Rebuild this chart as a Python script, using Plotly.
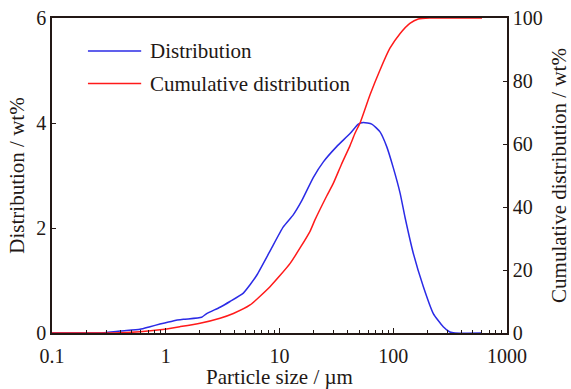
import plotly.graph_objects as go

# Particle size (µm) and distribution (wt%)
dist_size = [0.1, 0.2, 0.264, 0.4, 0.594, 0.727, 0.889, 1.16, 1.43, 2.07, 2.29, 3.0, 3.67,
             4.81, 5.51, 6.31, 8.25, 10.8, 13.2, 15.7, 19.8, 24.3, 31.8, 41.7, 49.3, 54.6,
             64.7, 76.5, 87.6, 100, 115, 127, 150, 184, 225, 275, 315, 349, 603]
dist_val = [0, 0, 0, 0.04, 0.07, 0.12, 0.17, 0.23, 0.26, 0.30, 0.37, 0.49, 0.60,
            0.76, 0.92, 1.10, 1.56, 2.02, 2.25, 2.52, 2.96, 3.26, 3.55, 3.80, 3.98, 4.01,
            3.98, 3.83, 3.55, 3.15, 2.66, 2.20, 1.52, 0.88, 0.37, 0.12, 0.02, 0, 0]

# Particle size (µm) and cumulative distribution (wt%)
cum_size = [0.1, 0.35, 0.594, 0.889, 1.33, 2.0, 3.0, 3.93, 5.51, 8.25, 12.4, 18.5, 20.5,
            26.0, 29.7, 35.0, 41.7, 46.1, 51.5, 62.5, 76.5, 93.5, 115, 140, 166, 210, 603]
cum_val = [0, 0, 0.4, 1.0, 2.0, 3.1, 4.7, 6.2, 8.9, 14.7, 22.1, 32.2, 35.9,
           43.5, 47.5, 53.5, 59.5, 63.4, 67.0, 75.6, 83.5, 90.4, 95.1, 98.3, 99.7, 100, 100]

x_major = [0.1, 1, 10, 100, 1000]
x_ticklabels = ["0.1", "1", "10", "100", "1000"]
x_minor = [0.2, 0.3, 0.4, 0.5, 0.6, 0.7, 0.8, 0.9,
           2, 3, 4, 5, 6, 7, 8, 9,
           20, 30, 40, 50, 60, 70, 80, 90,
           200, 300, 400, 500, 600, 700, 800, 900]
legend_names = ["Distribution", "Cumulative distribution"]
blue = "#2b2be6"
red = "#ff1a1a"
ink = "#231815"
font_family = "Liberation Serif, Times New Roman, serif"

fig = go.Figure()
fig.add_trace(go.Scatter(x=dist_size, y=dist_val, mode="lines", name=legend_names[0],
                         line=dict(color=blue, width=1.5, shape="spline", smoothing=0.5),
                         yaxis="y", showlegend=False))
fig.add_trace(go.Scatter(x=cum_size, y=cum_val, mode="lines", name=legend_names[1],
                         line=dict(color=red, width=1.5, shape="spline", smoothing=0.5),
                         yaxis="y2", showlegend=False))

# Manual legend (long line samples like the reference)
legend_y = [0.895, 0.792]
legend_colors = [blue, red]
for name, yy, col in zip(legend_names, legend_y, legend_colors):
    fig.add_shape(type="line", xref="paper", yref="paper", x0=0.079, x1=0.196, y0=yy, y1=yy,
                  line=dict(color=col, width=1.5))
    fig.add_annotation(xref="paper", yref="paper", x=0.211, y=yy, text=name, showarrow=False,
                       xanchor="left", yanchor="middle", font=dict(size=21, color=ink, family=font_family))

axis_common = dict(showline=True, linecolor=ink, linewidth=1.5, showgrid=False, zeroline=False,
                   ticks="inside", tickcolor=ink, tickwidth=1.2, automargin=False,
                   tickfont=dict(size=20, color=ink, family=font_family))

fig.update_layout(
    width=571, height=389,
    margin=dict(l=52, r=64, t=18, b=56),
    paper_bgcolor="white", plot_bgcolor="white",
    font=dict(family=font_family, color=ink, size=20),
    xaxis=dict(type="log", range=[-1, 3], tickvals=x_major, ticktext=x_ticklabels,
               ticklen=5, mirror=True, ticklabelstandoff=4,
               minor=dict(ticks="inside", ticklen=3, tickvals=x_minor, tickcolor=ink, tickwidth=1, showgrid=False),
               title=dict(text="Particle size / µm", font=dict(size=21, color=ink, family=font_family), standoff=4),
               **axis_common),
    yaxis=dict(range=[0, 6], dtick=2, ticklen=4,
               title=dict(text="Distribution / wt%", font=dict(size=21, color=ink, family=font_family), standoff=6),
               **axis_common),
    yaxis2=dict(range=[0, 100], dtick=20, ticklen=4, overlaying="y", side="right",
                title=dict(text="Cumulative distribution / wt%", font=dict(size=21, color=ink, family=font_family), standoff=16),
                **axis_common),
)

fig.write_html("out.html")
